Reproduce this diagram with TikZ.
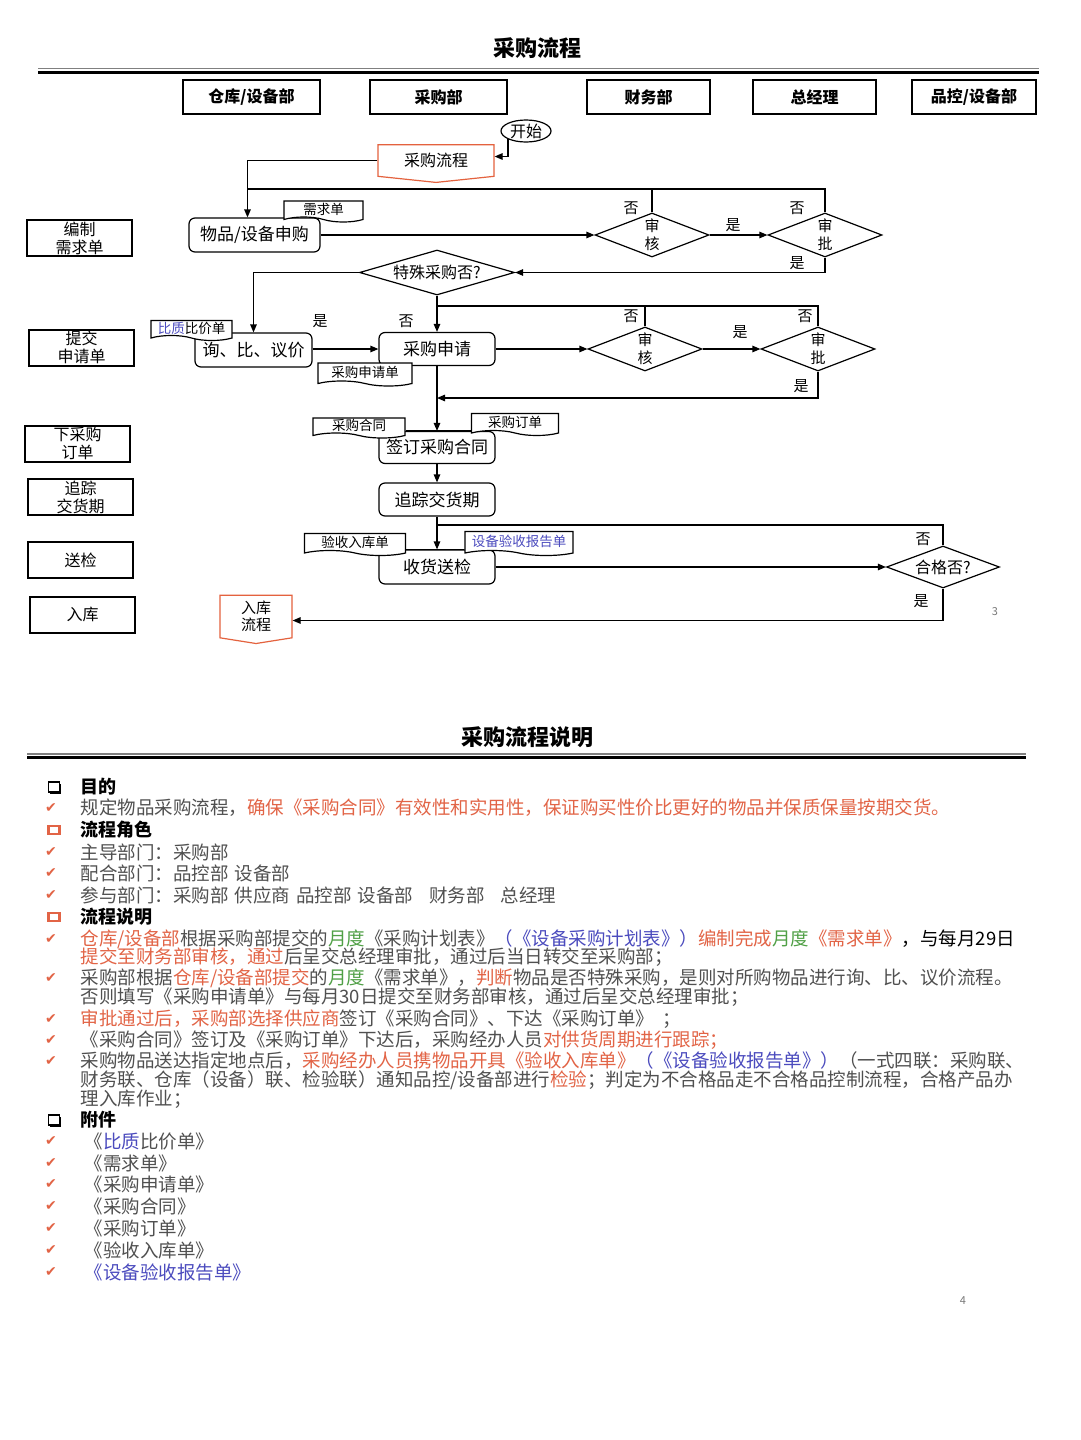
\documentclass[tikz,border=0pt]{standalone}
\usepackage{fontspec}
\setmainfont{Noto Sans CJK SC}
\newfontfamily\symfont{DejaVu Sans}
\usepackage{xcolor}
\usepackage{tikz}
\usetikzlibrary{shapes.geometric,shapes.symbols,arrows.meta,calc,shadows}
\definecolor{flowred}{RGB}{228,98,62}
\definecolor{notered}{RGB}{226,100,70}
\definecolor{notegray}{RGB}{80,80,80}
\definecolor{notegreen}{RGB}{80,160,70}
\definecolor{noteblue}{RGB}{75,75,190}
\definecolor{pagegray}{RGB}{120,120,120}

\begin{document}
\begin{tikzpicture}[x=1pt, y=-1pt, line width=1.2pt,
    arr/.style={-{Triangle[length=8pt,width=6.5pt]}},
    hdr/.style={draw, line width=1.5pt, minimum height=34pt, inner sep=0pt, font=\fontsize{16}{18}\selectfont\bfseries},
    lane/.style={draw, line width=2pt, minimum width=105pt, minimum height=36pt, inner sep=0pt, align=center, font=\fontsize{16}{18}\selectfont},
    proc/.style={draw, rounded corners=6pt, minimum width=116pt, minimum height=33pt, inner sep=0pt, font=\fontsize{17}{19}\selectfont},
    dec/.style={draw, diamond, aspect=2.6, inner sep=0pt, minimum width=114pt, minimum height=44pt, align=center, font=\fontsize{15}{18}\selectfont},
    doc/.style={draw, fill=white, tape, tape bend top=none, tape bend bottom=out and in, tape bend height=5pt, inner sep=0pt, font=\fontsize{13.5}{15}\selectfont},
    offpage/.style={draw=flowred, signal, signal to=south, signal from=nowhere, inner sep=0pt, align=center, font=\fontsize{16}{17}\selectfont},
    yn/.style={inner sep=0pt, font=\fontsize{15}{17}\selectfont},
    blkbox/.style={draw, fill=white, line width=1.5pt, minimum width=11pt, minimum height=10pt, inner sep=0pt, drop shadow={shadow xshift=1.6pt, shadow yshift=-1.6pt, opacity=1, fill=black}},
    orgbox/.style={draw=notered, line width=2.4pt, minimum width=11pt, minimum height=8pt, inner sep=0pt},
    chk/.style={text=notered, inner sep=0pt, font=\symfont\fontsize{14}{16}\selectfont},
    note/.style={anchor=west, inner sep=0pt, text=notegray, font=\fontsize{18.5}{20}\selectfont},
    head/.style={anchor=west, inner sep=0pt, font=\fontsize{18}{20}\selectfont\bfseries},
]
    \fill[white] (0,0) rectangle (1080,1440);
    \useasboundingbox (0,0) rectangle (1080,1440);

    % Page 3: flow chart
    \node[font=\fontsize{22}{24}\selectfont\bfseries] (title1) at (537,48) {采购流程};
    \draw[line width=1.3pt, gray] (38,68.5) -- (1039,68.5);
    \draw[line width=3pt] (38,72) -- (1039,72);

    % Departments
    \node[hdr, minimum width=137pt] (hWh) at (251.5,97) {仓库/设备部};
    \node[hdr, minimum width=137pt] (hPur) at (438.5,97) {采购部};
    \node[hdr, minimum width=123pt] (hFin) at (648.5,97) {财务部};
    \node[hdr, minimum width=123pt] (hGm) at (814.5,97) {总经理};
    \node[hdr, minimum width=124pt] (hQc) at (974,97) {品控/设备部};

    % Steps on the left
    \node[lane] (l1) at (79.5,238) {编制\\需求单};
    \node[lane] (l2) at (81.5,347.5) {提交\\申请单};
    \node[lane] (l3) at (77.5,443.5) {下采购\\订单};
    \node[lane] (l4) at (80.5,497) {追踪\\交货期};
    \node[lane] (l5) at (80.5,560) {送检};
    \node[lane] (l6) at (82.5,614.5) {入库};

    % Flow
    \node[draw, ellipse, minimum width=50pt, minimum height=22pt, inner sep=0pt, font=\fontsize{16}{18}\selectfont] (start) at (526,131) {开始};
    \node[offpage, minimum width=116pt, minimum height=35pt, signal pointer angle=168] (cg) at (436,160.5) {采购流程};
    \node[proc, minimum width=131pt, minimum height=34pt] (sg) at (254.5,235) {物品/设备申购};
    \node[dec] (sh1) at (652,235) {审\\核};
    \node[dec] (sp1) at (825,235) {审\\批};
    \node[dec, aspect=3.4, minimum width=155pt, minimum height=45pt, font=\fontsize{16}{18}\selectfont] (ts) at (437,272.5) {特殊采购否?};
    \node[proc, minimum width=117pt, minimum height=34pt] (xbj) at (253.5,350) {询、比、议价};
    \node[proc] (cs) at (437,349) {采购申请};
    \node[dec] (sh2) at (645,349) {审\\核};
    \node[dec] (sp2) at (818,349) {审\\批};
    \node[proc, minimum height=32pt] (qy) at (437,447.5) {签订采购合同};
    \node[proc] (zz) at (437,499.5) {追踪交货期};
    \node[proc, minimum height=34pt] (sh) at (437,567) {收货送检};
    \node[dec, aspect=3.4, minimum width=113pt, minimum height=42pt, font=\fontsize{16}{18}\selectfont] (hg) at (943,567) {合格否?};
    \node[offpage, minimum width=72pt, minimum height=45pt, signal pointer angle=162, font=\fontsize{15}{16.5}\selectfont] (rk) at (256,616.5) {入库\\流程};

    % Forms
    \node[doc, minimum width=79pt, minimum height=21pt] (xqd) at (323.5,209) {需求单};
    \node[doc, minimum width=81pt, minimum height=20pt] (bjd) at (191.5,328) {\textcolor{noteblue}{比质}比价单};
    \node[doc, minimum width=94pt, minimum height=23pt] (sqd) at (365,372) {采购申请单};
    \node[doc, minimum width=92pt, minimum height=20pt] (htd) at (359,425.5) {采购合同};
    \node[doc, minimum width=87pt, minimum height=22pt] (ddd) at (515,422) {采购订单};
    \node[doc, minimum width=101pt, minimum height=22pt] (ysd) at (355,542) {验收入库单};
    \node[doc, minimum width=108pt, minimum height=24pt] (bgd) at (519,541) {\textcolor{noteblue}{设备验收报告单}};

    % Yes / no
    \node[yn] (n1) at (631,208) {否};
    \node[yn] (n2) at (797,208) {否};
    \node[yn] (y1) at (733,225) {是};
    \node[yn] (y2) at (797,263) {是};
    \node[yn] (y3) at (320,321) {是};
    \node[yn] (n3) at (406,321) {否};
    \node[yn] (n4) at (631,316) {否};
    \node[yn] (n5) at (805,316) {否};
    \node[yn] (y4) at (740,332) {是};
    \node[yn] (y5) at (801,386) {是};
    \node[yn] (n6) at (923,539) {否};
    \node[yn] (y6) at (921,601) {是};

    \coordinate (r1) at (247.5,189);
    \coordinate (r2) at (437,306);
    \coordinate (m1) at (437,398);
    \coordinate (r3) at (437,525);

    % Connectors
    \draw[arr] (start.south west) |- ([yshift=4pt]cg.east);
    \draw[arr] (cg.west) -| ([xshift=-7pt]sg.north);
    \draw (sp1.north) |- (r1);
    \draw (sh1.north) -- (sh1.north |- r1);
    \draw[arr] (sg.east) -- (sh1.west);
    \draw[arr] (sh1.east) -- (sp1.west);
    \draw[arr] (sp1.south) |- (ts.east);
    \draw[arr] (ts.west) -| (xbj.north);
    \draw[arr] (ts.south) -- (cs.north);
    \draw (sp2.north) |- (r2);
    \draw (sh2.north) -- (sh2.north |- r2);
    \draw[arr] (xbj.east |- cs.west) -- (cs.west);
    \draw[arr] (cs.east) -- (sh2.west);
    \draw[arr] (sh2.east) -- (sp2.west);
    \draw[arr] (sp2.south) |- (m1);
    \draw[arr] (cs.south) -- (qy.north);
    \draw (htd.east |- qy.north) -- (ddd.west |- qy.north);
    \draw[arr] (qy.south) -- (zz.north);
    \draw[arr] (zz.south) -- (sh.north);
    \draw (hg.north) |- (r3);
    \draw (ysd.east |- sh.north) -- (bgd.west |- sh.north);
    \draw[arr] (sh.east) -- (hg.west);
    \draw[arr] (hg.south) |- ([yshift=-4pt]rk.east);

    \node[text=pagegray, font=\fontsize{11}{13}\selectfont] (pg3) at (995,612) {3};

    % Page 4: notes
    \node[font=\fontsize{22}{24}\selectfont\bfseries] (title2) at (527,737) {采购流程说明};
    \draw[line width=1.3pt, gray] (27,754) -- (1026,754);
    \draw[line width=3pt] (27,757.5) -- (1026,757.5);

    \foreach \y in {787,1120} {
        \node[blkbox] at (54,\y) {};
    }
    \foreach \y in {830,917} {
        \node[orgbox] at (54,\y) {};
    }
    \foreach \y in {808,852,873,895,939,978,1019,1040,1061,1141,1163,1184,1206,1228,1250,1272} {
        \node[chk] at (51,\y) {✔};
    }

    \node[head] (h1) at (80,787) {目的};
    \node[note] (t1) at (80,808) {规定物品采购流程，\textcolor{notered}{确保《采购合同》有效性和实用性，保证购买性价比更好的物品并保质保量按期交货。}};
    \node[head] (h2) at (80,830) {流程角色};
    \node[note] (t2) at (80,852) {主导部门：采购部};
    \node[note] (t3) at (80,873) {配合部门：品控部\hspace{6pt}设备部};
    \node[note] (t4) at (80,895) {参与部门：采购部\hspace{6pt}供应商\hspace{6pt}品控部\hspace{6pt}设备部\hspace{16pt}财务部\hspace{16pt}总经理};
    \node[head] (h3) at (80,917) {流程说明};
    \node[note] (t5) at (80,939) {\textcolor{notered}{仓库/设备部}根据采购部提交的\textcolor{notegreen}{月度}《采购计划表》\textcolor{noteblue}{（《设备采购计划表》）}\textcolor{notered}{编制完成}\textcolor{notegreen}{月度}\textcolor{notered}{《需求单》}\textcolor{black}{，与每月29日}};
    \node[note] (t5b) at (80,957) {\textcolor{notered}{提交至财务部审核，通过}后呈交总经理审批，通过后当日转交至采购部；};
    \node[note] (t6) at (80,978) {采购部根据\textcolor{notered}{仓库/设备部提交}的\textcolor{notegreen}{月度}《需求单》，\textcolor{notered}{判断}物品是否特殊采购，是则对所购物品进行询、比、议价流程。};
    \node[note] (t6b) at (80,997) {否则填写《采购申请单》与每月30日提交至财务部审核，通过后呈交总经理审批；};
    \node[note] (t7) at (80,1019) {\textcolor{notered}{审批通过后，采购部选择供应商}签订《采购合同》、下达《采购订单》\hspace{8pt}；};
    \node[note] (t8) at (80,1040) {《采购合同》签订及《采购订单》下达后，采购经办人员\textcolor{notered}{对供货周期进行跟踪；}};
    \node[note] (t9) at (80,1061) {采购物品送达指定地点后，\textcolor{notered}{采购经办人员携物品开具《验收入库单》}\textcolor{noteblue}{（《设备验收报告单》）}（一式四联：采购联、};
    \node[note] (t9b) at (80,1080) {财务联、仓库（设备）联、检验联）通知品控/设备部进行\textcolor{notered}{检验}；判定为不合格品走不合格品控制流程，合格产品办};
    \node[note] (t9c) at (80,1099) {理入库作业；};
    \node[head] (h4) at (80,1120) {附件};
    \node[note] (a1) at (84,1141) {《\textcolor{noteblue}{比质}比价单》};
    \node[note] (a2) at (84,1163) {《需求单》};
    \node[note] (a3) at (84,1184) {《采购申请单》};
    \node[note] (a4) at (84,1206) {《采购合同》};
    \node[note] (a5) at (84,1228) {《采购订单》};
    \node[note] (a6) at (84,1250) {《验收入库单》};
    \node[note, text=noteblue] (a7) at (84,1272) {《设备验收报告单》};

    \node[text=pagegray, font=\fontsize{11}{13}\selectfont] (pg4) at (963,1301) {4};
\end{tikzpicture}
\end{document}
